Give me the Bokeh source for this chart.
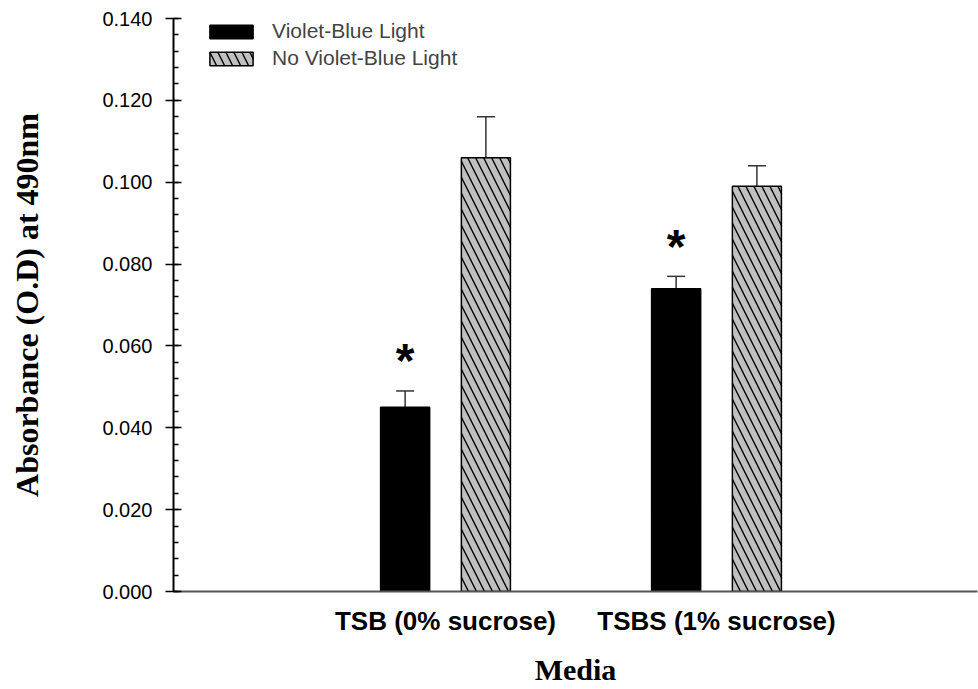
import numpy as np
from bokeh.plotting import figure
from bokeh.models import (ColumnDataSource, Range1d, FixedTicker, NumeralTickFormatter,
                          Whisker, TeeHead, Legend, LegendItem)
from bokeh.core.properties import value
from bokeh.embed import file_html
from bokeh.resources import INLINE

# ---- data ----
categories = ["TSB (0% sucrose)", "TSBS (1% sucrose)"]
series_names = ["Violet-Blue Light", "No Violet-Blue Light"]
vb_light = [0.045, 0.074]
vb_light_err = [0.004, 0.003]
no_light = [0.106, 0.099]
no_light_err = [0.010, 0.005]
significant = [True, True]   # asterisk above the Violet-Blue Light bars
y_ticks = [0.000, 0.020, 0.040, 0.060, 0.080, 0.100, 0.120, 0.140]

pos = np.arange(len(categories), dtype=float)
dodge = 0.149
bar_w = 0.181

p = figure(width=978, height=689, output_backend="svg", toolbar_location=None,
           x_range=Range1d(-1.0037, 1.963), y_range=Range1d(0, 0.14),
           min_border_left=173, min_border_right=1, min_border_top=18, min_border_bottom=98)
p.outline_line_color = None
p.xgrid.grid_line_color = None
p.ygrid.grid_line_color = None
p.background_fill_color = "white"

src_a = ColumnDataSource(dict(x=pos - dodge, top=vb_light, up=np.array(vb_light) + np.array(vb_light_err)))
src_b = ColumnDataSource(dict(x=pos + dodge, top=no_light, up=np.array(no_light) + np.array(no_light_err)))

r_a = p.vbar(x="x", top="top", width=bar_w, bottom=0, source=src_a,
             fill_color="black", line_color="black", line_width=1.5)
r_b = p.vbar(x="x", top="top", width=bar_w, bottom=0, source=src_b,
             fill_color="#c0c0c0", line_color="black", line_width=1.5,
             hatch_pattern="left_diagonal_line", hatch_color="black",
             hatch_weight=1.4, hatch_scale=16)

for src in (src_a, src_b):
    w = Whisker(source=src, base="x", lower="top", upper="up", dimension="height",
                line_color="#333333", line_width=1.5,
                upper_head=TeeHead(size=18, line_color="#333333", line_width=1.5),
                lower_head=None)
    p.add_layout(w)

# significance asterisks
sig_x = [x for x, s in zip(pos - dodge, significant) if s]
sig_y = [u for u, s in zip(src_a.data["up"], significant) if s]
p.text(x=sig_x, y=sig_y, text=["*"] * len(sig_x), text_align="center",
       text_baseline="middle", y_offset=-30, text_font=value("Liberation Sans"),
       text_font_size="48px", text_font_style="bold", text_color="black")

# axes
p.yaxis.ticker = FixedTicker(ticks=y_ticks,
                             minor_ticks=list(np.round(np.arange(0, 0.1401, 0.004), 4)))
p.yaxis.formatter = NumeralTickFormatter(format="0.000")
p.yaxis.major_label_text_font = "Liberation Sans"
p.yaxis.major_label_text_font_size = "20px"
p.yaxis.major_label_text_color = "black"
p.yaxis.major_label_standoff = 13
p.yaxis.major_tick_in = 8
p.yaxis.major_tick_out = 8
p.yaxis.minor_tick_in = 5
p.yaxis.minor_tick_out = 0
p.yaxis.axis_line_width = 2
p.yaxis.major_tick_line_width = 1.5
p.yaxis.minor_tick_line_width = 1.5
p.yaxis.axis_label = "Absorbance (O.D) at 490nm"
p.yaxis.axis_label_text_font = "Liberation Serif"
p.yaxis.axis_label_text_font_style = "bold"
p.yaxis.axis_label_text_font_size = "32px"
p.yaxis.axis_label_text_color = "black"
p.yaxis.axis_label_standoff = 54

p.xaxis.ticker = FixedTicker(ticks=list(pos))
p.xaxis.major_label_overrides = {float(x): c for x, c in zip(pos, categories)}
p.xaxis.major_label_overrides.update({int(x): c for x, c in zip(pos, categories)})
p.xaxis.major_label_text_font = "Liberation Sans"
p.xaxis.major_label_text_font_style = "bold"
p.xaxis.major_label_text_font_size = "26px"
p.xaxis.major_label_text_color = "black"
p.xaxis.major_label_standoff = 8
p.xaxis.major_tick_line_color = None
p.xaxis.minor_tick_line_color = None
p.xaxis.axis_line_width = 2
p.xaxis.axis_line_color = "#555555"
p.xaxis.axis_label = "Media"
p.xaxis.axis_label_text_font = "Liberation Serif"
p.xaxis.axis_label_text_font_style = "bold"
p.xaxis.axis_label_text_font_size = "30px"
p.xaxis.axis_label_text_color = "black"
p.xaxis.axis_label_standoff = 14

legend = Legend(items=[LegendItem(label=series_names[0], renderers=[r_a]),
                       LegendItem(label=series_names[1], renderers=[r_b])],
                location=(31, 521), glyph_width=54, glyph_height=17,
                label_text_font="Liberation Sans", label_text_font_size="21px",
                label_height=17, label_standoff=14, spacing=3, padding=2, margin=0,
                border_line_color=None, background_fill_alpha=0)
p.add_layout(legend, "center")

open("out.html", "w").write(file_html(p, INLINE))
